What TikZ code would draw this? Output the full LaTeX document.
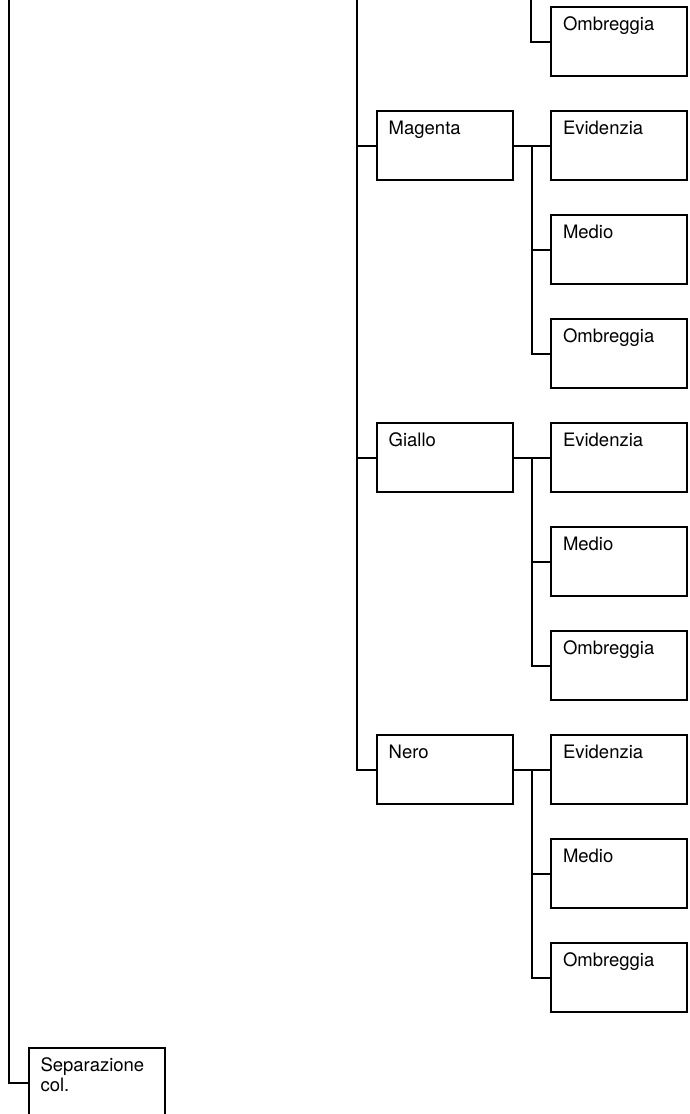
\documentclass[tikz,border=0pt]{standalone}
\usepackage{fontspec}
\setmainfont{TeX Gyre Heros}
\usepackage{tikz}
\usetikzlibrary{calc}

\begin{document}
\begin{tikzpicture}[
    x=1pt,y=-1pt,
    line width=2pt,
    menubox/.style={draw,rectangle,anchor=north west,
      text width=112pt,align=left,inner xsep=12pt,inner ysep=0pt,
      text height=23pt,text depth=46pt,
      font=\fontsize{18.5}{20.5}\selectfont},
  ]
  \useasboundingbox (0,0) rectangle (689,1114);

  % free ends at the top edge
  \coordinate (top1) at (8.5,0);
  \coordinate (top2) at (357,0);
  \coordinate (cyaj) at (531.2,0);

  % Ciano (last child only)
  \node[menubox] (cya3) at (550,6) {Ombreggia};
  \draw (cyaj) |- (cya3.west);

  % Magenta
  \node[menubox] (mag) at (375.7,110) {Magenta};
  \node[menubox] (mag1) at (550,110) {Evidenzia};
  \node[menubox] (mag2) at (550,214) {Medio};
  \node[menubox] (mag3) at (550,318) {Ombreggia};

  % Giallo
  \node[menubox] (gia) at (375.7,422) {Giallo};
  \node[menubox] (gia1) at (550,422) {Evidenzia};
  \node[menubox] (gia2) at (550,526) {Medio};
  \node[menubox] (gia3) at (550,630) {Ombreggia};

  % Nero
  \node[menubox] (ner) at (375.7,734) {Nero};
  \node[menubox] (ner1) at (550,734) {Evidenzia};
  \node[menubox] (ner2) at (550,838) {Medio};
  \node[menubox] (ner3) at (550,942) {Ombreggia};

  % Separazione col.
  \node[menubox] (sep) at (27.5,1047) {Separazione\\col.};

  % connectors
  \foreach \c in {mag,gia,ner} {
    \draw (top2) |- (\c.west);
    \draw (\c.east) -- (\c1.west);
    \foreach \k in {2,3}
      \draw ($(\c.east)!0.5!(\c1.west)$) |- (\c\k.west);
  }
  \draw (top1) |- (sep.west);
\end{tikzpicture}
\end{document}
